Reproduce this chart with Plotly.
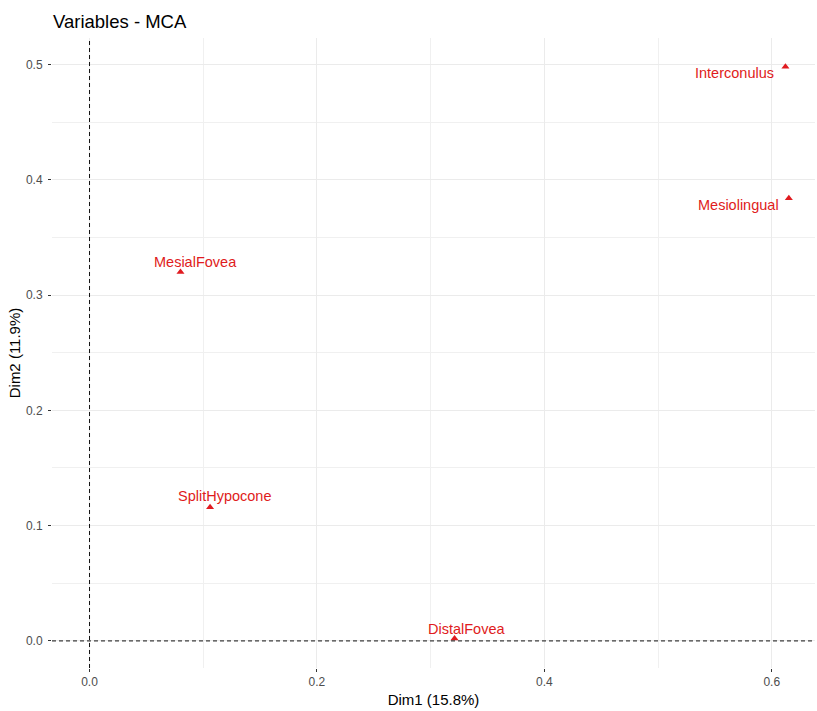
import plotly.graph_objects as go

# MCA variable coordinates (Dim1, Dim2)
variables = ["Interconulus", "Mesiolingual", "MesialFovea", "SplitHypocone", "DistalFovea"]
dim1 = [0.612, 0.615, 0.080, 0.106, 0.321]
dim2 = [0.498, 0.384, 0.320, 0.116, 0.002]

x_ticks = [0.0, 0.2, 0.4, 0.6]
y_ticks = [0.0, 0.1, 0.2, 0.3, 0.4, 0.5]

# label placement relative to each point (pixels): xanchor, xshift, yshift
label_pos = {
    "Interconulus": ("right", -9, -6),
    "Mesiolingual": ("right", -8, -7),
    "MesialFovea": ("center", 15, 10),
    "SplitHypocone": ("center", 15, 11),
    "DistalFovea": ("center", 12, 10),
}

RED = "#E01B20"
FONT = "Liberation Sans, Arial, sans-serif"

fig = go.Figure()
fig.add_trace(go.Scatter(
    x=dim1, y=dim2, mode="markers",
    marker=dict(symbol="triangle-up", size=7, color=RED),
    hoverinfo="text", text=variables, showlegend=False,
))

for name, x, y in zip(variables, dim1, dim2):
    anchor, dx, dy = label_pos[name]
    fig.add_annotation(
        x=x, y=y, xref="x", yref="y", text=name, showarrow=False,
        xanchor=anchor, yanchor="middle", xshift=dx, yshift=dy,
        font=dict(family=FONT, size=14.5, color=RED),
    )

# reference lines through the origin
fig.add_hline(y=0, line=dict(color="#111111", width=1, dash="4px,3px"), layer="above")
fig.add_vline(x=0, line=dict(color="#111111", width=1, dash="4px,3px"), layer="above")

axis_common = dict(
    showgrid=True, gridcolor="#EBEBEB", gridwidth=1,
    zeroline=False, showline=False,
    ticks="outside", ticklen=3, tickwidth=1, tickcolor="#333333",
    tickfont=dict(family=FONT, size=12, color="#4D4D4D"),
    tickformat=".1f",
)

fig.update_layout(
    width=817, height=711,
    margin=dict(l=52, r=2, t=38, b=43),
    plot_bgcolor="white", paper_bgcolor="white",
    font=dict(family=FONT),
    title=dict(text="Variables - MCA", x=0, xref="paper", xanchor="left",
               y=1, yref="container", yanchor="top", pad=dict(t=15, l=1),
               font=dict(family=FONT, size=18.5, color="#000000")),
    xaxis=dict(axis_common, range=[-0.033, 0.638], tickvals=x_ticks,
               minor=dict(showgrid=True, gridcolor="#F0F0F0", gridwidth=1, dtick=0.1, tick0=0),
               title=dict(text="Dim1 (15.8%)", standoff=6,
                          font=dict(family=FONT, size=15, color="#000000"))),
    yaxis=dict(axis_common, range=[-0.0235, 0.523], tickvals=y_ticks,
               ticklabelstandoff=3,
               minor=dict(showgrid=True, gridcolor="#F0F0F0", gridwidth=1, dtick=0.05, tick0=0),
               title=dict(text="Dim2 (11.9%)", standoff=1,
                          font=dict(family=FONT, size=15, color="#000000"))),
)

fig.write_html("out.html")
